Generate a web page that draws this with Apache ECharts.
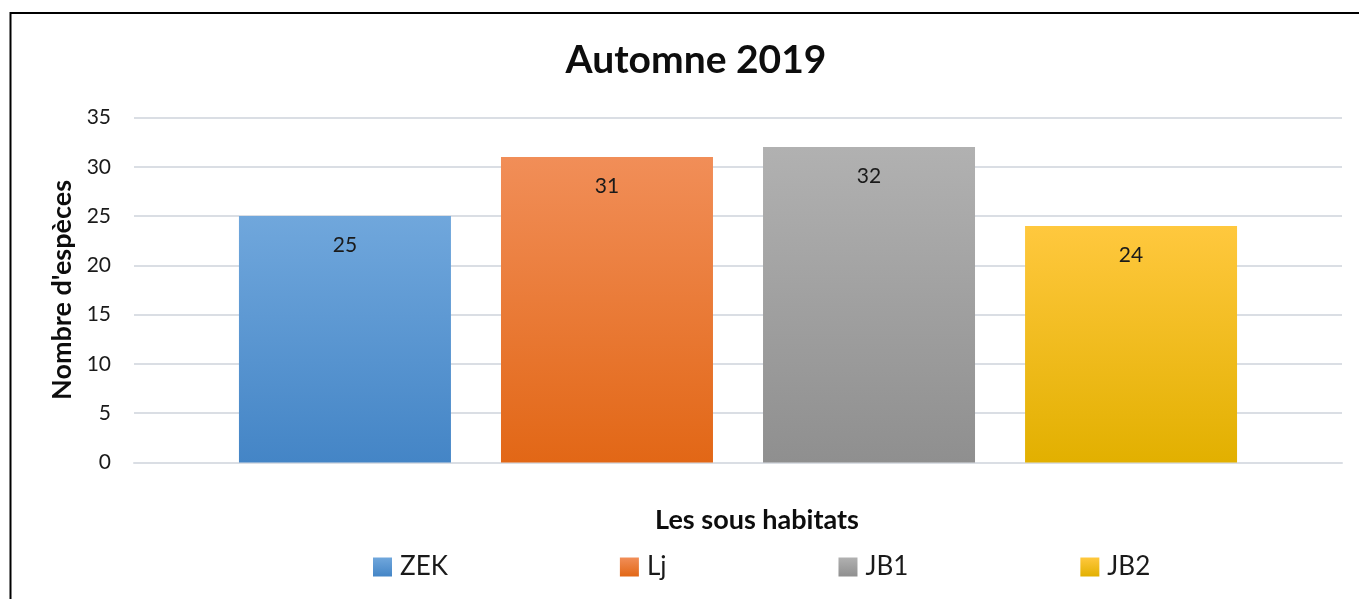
<!DOCTYPE html>
<html>
<head>
<meta charset="utf-8">
<script src="https://cdn.jsdelivr.net/npm/echarts@6/dist/echarts.min.js"></script>
<style>
  html, body { margin: 0; padding: 0; background: #fff; }
  #chart { width: 1359px; height: 599px; }
</style>
</head>
<body>
<div id="chart"></div>
<script>
// data
var categories = ['Automne 2019'];
var seriesNames = ['ZEK', 'Lj', 'JB1', 'JB2'];
var seriesValues = [25, 31, 32, 24];
var yTicks = [0, 5, 10, 15, 20, 25, 30, 35];

// excel-like gradient fills (top, bottom)
var fills = [
  ['#70a7dc', '#4485c6'],
  ['#f18e58', '#e26716'],
  ['#b1b1b1', '#8f8f8f'],
  ['#ffc83e', '#e2b000']
];

var FONT = 'Lato';

var chart = echarts.init(document.getElementById('chart'));

var series = seriesNames.map(function (name, i) {
  return {
    name: name,
    type: 'bar',
    data: [seriesValues[i]],
    barWidth: 212,
    barGap: '23.6%',
    itemStyle: {
      color: new echarts.graphic.LinearGradient(0, 0, 0, 1, [
        { offset: 0, color: fills[i][0] },
        { offset: 1, color: fills[i][1] }
      ])
    },
    label: {
      show: true,
      position: 'insideTop',
      distance: 19,
      color: '#1a1a1a',
      fontSize: 21,
      fontFamily: FONT
    }
  }
});

chart.setOption({
  animation: false,
  backgroundColor: '#fff',
  title: {
    text: 'Automne 2019',
    left: 691,
    textAlign: 'center',
    top: 36,
    textStyle: {
      fontFamily: FONT,
      fontWeight: 'bold',
      fontSize: 39,
      color: '#0d0d0d'
    }
  },
  legend: {
    data: seriesNames,
    left: 368,
    top: 549,
    itemWidth: 19,
    itemHeight: 19,
    itemGap: 172,
    icon: 'rect',
    textStyle: {
      fontFamily: FONT,
      fontSize: 26,
      color: '#1a1a1a',
      padding: [0, 0, 0, 3]
    }
  },
  grid: {
    left: 134,
    right: 17,
    top: 117.5,
    bottom: 136.5
  },
  xAxis: {
    type: 'category',
    data: categories,
    name: 'Les sous habitats',
    nameLocation: 'middle',
    nameGap: 44,
    nameTextStyle: {
      fontFamily: FONT,
      fontWeight: 'bold',
      fontSize: 27,
      color: '#0d0d0d',
      padding: [0, 0, 0, 38]
    },
    axisLabel: { show: false },
    axisTick: { show: false },
    axisLine: { lineStyle: { color: '#dadee4', width: 2 } }
  },
  yAxis: {
    type: 'value',
    min: yTicks[0],
    max: yTicks[yTicks.length - 1],
    interval: 5,
    name: "Nombre d'espèces",
    nameLocation: 'middle',
    nameGap: 56,
    nameTextStyle: {
      fontFamily: FONT,
      fontWeight: 'bold',
      fontSize: 27,
      color: '#0d0d0d'
    },
    axisLabel: {
      margin: 23,
      fontFamily: FONT,
      fontSize: 21,
      color: '#1a1a1a'
    },
    axisTick: { show: false },
    axisLine: { show: false },
    splitLine: { lineStyle: { color: '#dadee4', width: 2 } }
  },
  graphic: [{
    type: 'rect',
    shape: { x: 10.5, y: 13, width: 1400, height: 700 },
    style: { fill: 'none', stroke: '#000', lineWidth: 2 },
    silent: true
  }],
  series: series
});
</script>
</body>
</html>
